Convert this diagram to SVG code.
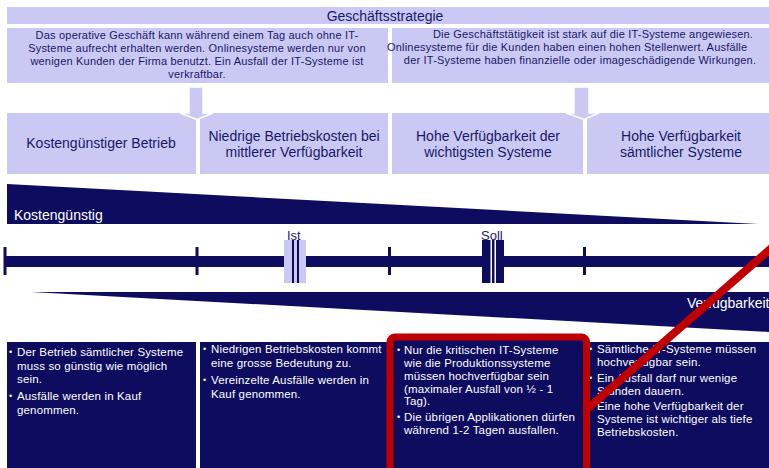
<svg xmlns="http://www.w3.org/2000/svg" width="769" height="468" viewBox="0 0 769 468">
<style>
text{font-family:"Liberation Sans",Arial,sans-serif}
.lav{fill:#C9C9F4}
.navy{fill:#0E0C5E}
.dt{fill:#1A1866;font-size:11px;letter-spacing:0.2px}
.hd{fill:#1A1866;font-size:14px}
.wt{fill:#FFFFFF;font-size:11.5px;letter-spacing:0.15px}
.bul{fill:#FFFFFF;font-size:9px}
.tick{fill:#0E0C5E}
</style>
<rect width="769" height="468" fill="#FFFFFF"/>

<g id="strategy-bar">
<rect class="lav" x="7" y="7" width="762" height="17"/>
<text x="385" y="21" text-anchor="middle" style="fill:#1A1866;font-size:14px">Geschäftsstrategie</text>
</g>

<g id="desc-left">
<rect class="lav" x="7" y="28" width="381" height="55"/>
<text class="dt" x="197" y="39" text-anchor="middle">Das operative Geschäft kann während  einem Tag auch ohne IT-</text>
<text class="dt" x="197" y="52" text-anchor="middle">Systeme aufrecht erhalten werden. Onlinesysteme werden nur von</text>
<text class="dt" x="197" y="65" text-anchor="middle">wenigen Kunden der Firma benutzt. Ein Ausfall der IT-Systeme ist</text>
<text class="dt" x="197" y="78" text-anchor="middle">verkraftbar.</text>
</g>

<g id="desc-right">
<rect class="lav" x="392" y="28" width="377" height="55"/>
<text class="dt" x="593" y="38" text-anchor="middle">Die Geschäftstätigkeit ist stark auf die IT-Systeme angewiesen.</text>
<text class="dt" x="387" y="51">Onlinesysteme für die Kunden haben einen hohen Stellenwert. Ausfälle</text>
<text class="dt" x="580" y="64" text-anchor="middle">der IT-Systeme haben finanzielle oder imageschädigende Wirkungen.</text>
</g>

<g id="strategy-1">
<rect class="lav" x="7" y="113" width="189" height="61"/>
<text class="hd" x="101" y="148" text-anchor="middle">Kostengünstiger Betrieb</text>
</g>
<g id="strategy-2">
<rect class="lav" x="200" y="113" width="188" height="61"/>
<text class="hd" x="294" y="141" text-anchor="middle">Niedrige Betriebskosten bei</text>
<text class="hd" x="294" y="157" text-anchor="middle">mittlerer Verfügbarkeit</text>
</g>
<g id="strategy-3">
<rect class="lav" x="392" y="113" width="191" height="61"/>
<text class="hd" x="488" y="141" text-anchor="middle">Hohe Verfügbarkeit der</text>
<text class="hd" x="488" y="157" text-anchor="middle">wichtigsten Systeme</text>
</g>
<g id="strategy-4">
<rect class="lav" x="587" y="113" width="182" height="61"/>
<text class="hd" x="681" y="141" text-anchor="middle">Hohe Verfügbarkeit</text>
<text class="hd" x="681" y="157" text-anchor="middle">sämtlicher Systeme</text>
</g>

<g id="connectors">
<polygon class="lav" stroke="#FFFFFF" stroke-width="1.5" points="189,87 203,87 203,113 213,113 197,119.5 180,113 189,113"/>
<polygon class="lav" stroke="#FFFFFF" stroke-width="1.5" points="574,87 589,87 589,113 599,113 584,119.5 566,113 574,113"/>
</g>

<g id="cost-wedge">
<polygon class="navy" points="7,184 758,224 7,224"/>
<text x="14" y="220" style="fill:#FFFFFF;font-size:14px">Kostengünstig</text>
</g>

<g id="scale">
<rect class="navy" x="5" y="256" width="764" height="11"/>
<rect class="tick" x="3.5" y="247" width="3" height="28"/>
<rect class="tick" x="195.5" y="247" width="3" height="28"/>
<rect class="tick" x="388" y="247" width="3" height="28"/>
<rect class="tick" x="583" y="247" width="3" height="28"/>
</g>

<g id="marker-ist">
<rect class="lav" x="284" y="240" width="22" height="43"/>
<rect class="navy" x="292" y="240" width="2" height="43"/>
<rect class="navy" x="297" y="240" width="2" height="43"/>
<text x="287" y="240" style="fill:#1A1866;font-size:13px">Ist</text>
</g>

<g id="marker-soll">
<rect class="navy" x="482" y="240" width="22" height="43"/>
<rect fill="#FFFFFF" x="490.5" y="240" width="1.5" height="43"/>
<rect fill="#FFFFFF" x="494.5" y="240" width="1.5" height="43"/>
<text x="481" y="240" style="fill:#1A1866;font-size:13px">Soll</text>
</g>

<g id="availability-wedge">
<polygon class="navy" points="31,292 769,292 769,332"/>
<text x="687" y="308" style="fill:#FFFFFF;font-size:14px">Verfügbarkeit</text>
</g>

<g id="detail-1">
<rect class="navy" x="7" y="342" width="189" height="126"/>
<text class="bul" x="9" y="355">•</text>
<text class="wt" x="17" y="356">Der Betrieb sämtlicher Systeme</text>
<text class="wt" x="17" y="369.5">muss so günstig wie möglich</text>
<text class="wt" x="17" y="383">sein.</text>
<text class="bul" x="9" y="399">•</text>
<text class="wt" x="17" y="400">Ausfälle werden in Kauf</text>
<text class="wt" x="17" y="413.5">genommen.</text>
</g>

<g id="detail-2">
<rect class="navy" x="200" y="342" width="188" height="126"/>
<text class="bul" x="203" y="352">•</text>
<text class="wt" x="211" y="353">Niedrigen Betriebskosten kommt</text>
<text class="wt" x="211" y="367">eine grosse Bedeutung zu.</text>
<text class="bul" x="203" y="383">•</text>
<text class="wt" x="211" y="384">Vereinzelte Ausfälle werden in</text>
<text class="wt" x="211" y="398">Kauf genommen.</text>
</g>

<g id="detail-4">
<rect class="navy" x="587" y="342" width="182" height="126"/>
<text class="bul" x="589" y="352">•</text>
<text class="wt" x="597" y="353">Sämtliche IT-Systeme müssen</text>
<text class="wt" x="597" y="366">hochverfügbar sein.</text>
<text class="bul" x="589" y="381">•</text>
<text class="wt" x="597" y="382">Ein Ausfall darf nur wenige</text>
<text class="wt" x="597" y="394.5">Stunden dauern.</text>
<text class="wt" x="597" y="410">Eine hohe Verfügbarkeit der</text>
<text class="wt" x="597" y="423">Systeme ist wichtiger als tiefe</text>
<text class="wt" x="597" y="436">Betriebskosten.</text>
</g>

<g id="detail-3">
<rect class="navy" x="390" y="337" width="196.5" height="140"/>
<text class="bul" x="397" y="353">•</text>
<text class="wt" x="404" y="354">Nur die kritischen IT-Systeme</text>
<text class="wt" x="404" y="367">wie die Produktionssysteme</text>
<text class="wt" x="404" y="379.5">müssen hochverfügbar sein</text>
<text class="wt" x="404" y="393">(maximaler Ausfall von ½ - 1</text>
<text class="wt" x="404" y="405">Tag).</text>
<text class="bul" x="397" y="420">•</text>
<text class="wt" x="404" y="421">Die übrigen Applikationen dürfen</text>
<text class="wt" x="404" y="434">während 1-2 Tagen ausfallen.</text>
</g>

<g id="highlight">
<line x1="776" y1="244" x2="586" y2="410" stroke="#C00000" stroke-width="8"/>
<rect x="390" y="337" width="196.5" height="140" rx="5" fill="none" stroke="#C00000" stroke-width="7"/>
</g>
</svg>
